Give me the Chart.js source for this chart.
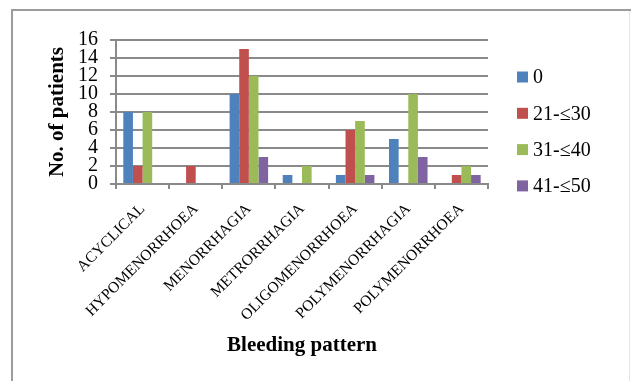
<!DOCTYPE html>
<html>
<head>
<meta charset="utf-8">
<script src="https://cdn.jsdelivr.net/npm/chart.js@4"></script>
<style>
  html, body { margin: 0; padding: 0; background: #fff; }
  #wrap { position: relative; width: 631px; height: 381px; overflow: hidden; }
  #frame { position: absolute; left: 11px; top: 9px; width: 640px; height: 400px;
           border-top: 2px solid #9c9c9c; border-left: 2px solid #9c9c9c; box-sizing: border-box; }
  #rline { position: absolute; left: 629px; top: 11px; width: 1px; height: 380px; background: #e4e4e4; }
  canvas { position: absolute; left: 0; top: 0; }
</style>
</head>
<body>
<div id="wrap">
  <div id="frame"></div>
  <div id="rline"></div>
  <canvas id="c" width="631" height="381"></canvas>
</div>
<script>
const categories = ['ACYCLICAL', 'HYPOMENORRHOEA', 'MENORRHAGIA', 'METRORRHAGIA', 'OLIGOMENORRHOEA', 'POLYMENORRHAGIA', 'POLYMENORRHOEA'];
const seriesNames = ['0', '21-\u226430', '31-\u226440', '41-\u226450'];
const series0 = [8, 0, 10, 1, 1, 5, 0];
const series21to30 = [2, 2, 15, 0, 6, 0, 1];
const series31to40 = [8, 0, 12, 2, 7, 10, 2];
const series41to50 = [0, 0, 3, 0, 1, 3, 1];
const yTicks = [0, 2, 4, 6, 8, 10, 12, 14, 16];
const yTitle = 'No. of patients';
const xTitle = 'Bleeding pattern';

const colors = ['#4F81BD', '#C0504D', '#9BBB59', '#8064A2'];
const values = [series0, series21to30, series31to40, series41to50];
const FONT = "'Liberation Serif', 'Times New Roman', serif";
const gridColor = '#8a8a8a';

const legendPlugin = {
  id: 'customLegend',
  afterDraw(chart) {
    const ctx = chart.ctx;
    ctx.save();
    ctx.font = '20px ' + FONT;
    ctx.textBaseline = 'middle';
    ctx.textAlign = 'left';
    chart.data.datasets.forEach((ds, i) => {
      const y = 77 + i * 36.3;
      ctx.fillStyle = ds.backgroundColor;
      ctx.fillRect(517, y - 5.5, 11, 11);
      ctx.fillStyle = '#000';
      ctx.fillText(ds.label, 533, y + 1);
    });
    ctx.restore();
  }
};

new Chart(document.getElementById('c'), {
  type: 'bar',
  data: {
    labels: categories,
    datasets: seriesNames.map((n, i) => ({
      label: n,
      data: values[i],
      backgroundColor: colors[i],
      borderWidth: 0,
      categoryPercentage: 0.725,
      barPercentage: 1.0
    }))
  },
  options: {
    responsive: false,
    animation: false,
    devicePixelRatio: 1,
    layout: { padding: { left: 40, top: 40, right: 143, bottom: 20 } },
    plugins: { legend: { display: false }, tooltip: { enabled: false } },
    scales: {
      x: {
        afterFit(s) { s.height = 381 - 184 - 20; },
        grid: { drawOnChartArea: false, drawTicks: true, tickLength: 5, color: gridColor, lineWidth: 2, offset: true },
        border: { display: true, color: gridColor, width: 2 },
        ticks: { minRotation: 45, maxRotation: 45, autoSkip: false, color: '#000', padding: 11,
                 font: { family: FONT, size: 15.5 } },
        title: { display: true, text: xTitle, color: '#000', padding: { top: 0, bottom: 3 },
                 font: { family: FONT, size: 21, weight: 'bold' } }
      },
      y: {
        min: 0, max: 16,
        afterFit(s) { s.width = 76; },
        afterBuildTicks(s) { s.ticks = yTicks.map(v => ({ value: v })); },
        grid: { color: gridColor, lineWidth: 2, tickLength: 6, drawTicks: true },
        border: { display: true, color: gridColor, width: 2 },
        ticks: { autoSkip: false, color: '#000', padding: 12, font: { family: FONT, size: 20 } },
        title: { display: true, text: yTitle, color: '#000', padding: { top: 5, bottom: 0 },
                 font: { family: FONT, size: 21, weight: 'bold' } }
      }
    }
  },
  plugins: [legendPlugin]
});
</script>
</body>
</html>
